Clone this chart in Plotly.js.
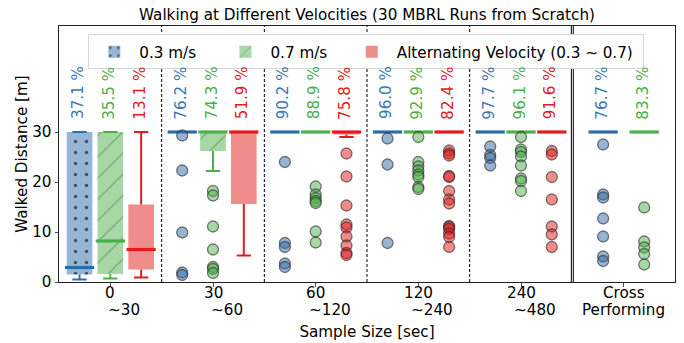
<!DOCTYPE html>
<html>
<head>
<meta charset="utf-8">
<script src="https://cdn.plot.ly/plotly-3.0.1.min.js"></script>
<style>html,body{margin:0;padding:0;background:#fff;}#chart{width:684px;height:343px;}</style>
</head>
<body>
<div id="chart"></div>
<script>
// ---- data ----
const categories = ["0\n~30", "30\n~60", "60\n~120", "120\n~240", "240\n~480", "Cross\nPerforming"];
const seriesNames = ["0.3 m/s", "0.7 m/s", "Alternating Velocity (0.3 ~ 0.7)"];

// 0.3 m/s
const q1_slow = [1.5, 30, 30, 30, 30, 30];
const med_slow = [2.9, 30, 30, 30, 30, 30];
const q3_slow = [30, 30, 30, 30, 30, 30];
const wlo_slow = [0.5, 30, 30, 30, 30, 30];
const whi_slow = [30, 30, 30, 30, 30, 30];
const out_slow = [[], [29.3, 22.3, 9.9, 1.9, 1.4], [24.0, 7.8, 7.0, 3.7, 3.0], [28.7, 23.5, 7.8],
  [27.1, 25.4, 24.8, 23.3], [27.5, 17.5, 16.9, 12.7, 9.1, 5.1, 4.2]];
const pct_slow = [37.1, 76.2, 90.2, 96.0, 97.7, 76.7];

// 0.7 m/s
const q1_fast = [1.6, 26.2, 30, 30, 30, 30];
const med_fast = [8.2, 30, 30, 30, 30, 30];
const q3_fast = [30, 30, 30, 30, 30, 30];
const wlo_fast = [0.7, 22.2, 30, 30, 30, 30];
const whi_fast = [30, 30, 30, 30, 30, 30];
const out_fast = [[], [18.2, 17.3, 11.1, 6.5, 3.0, 2.6, 1.8], [19.1, 17.5, 16.8, 16.2, 15.8, 10.1, 7.9],
  [29.0, 24.0, 23.1, 22.3, 21.5, 21.0, 19.0, 18.6], [29.0, 26.5, 26.0, 25.1, 23.3, 20.7, 20.2, 18.2],
  [14.9, 8.1, 6.9, 5.6, 3.5]];
const pct_fast = [35.5, 74.3, 88.9, 92.9, 96.1, 83.3];

// Alternating velocity (no cross-performing entry)
const q1_alt = [2.5, 15.6, 29.5, 30, 30];
const med_alt = [6.5, 30, 30, 30, 30];
const q3_alt = [15.5, 30, 30, 30, 30];
const wlo_alt = [0.9, 5.3, 29.0, 30, 30];
const whi_alt = [30, 30, 30, 30, 30];
const out_alt = [[], [], [25.7, 21.1, 15.3, 11.5, 10.9, 9.1, 7.3, 5.8, 5.4],
  [26.3, 25.7, 25.3, 21.2, 21.0, 18.2, 16.5, 15.7, 11.2, 11.0, 10.6, 9.7, 9.0, 7.0],
  [26.2, 25.5, 21.0, 16.5, 11.1, 9.5, 7.0]];
const pct_alt = [13.1, 51.9, 75.8, 82.4, 91.6];

// ---- styling ----
const FONT = "DejaVu Sans";
const FS = 15.2;
const NB = "\u00a0";
const styles = [
  {line: "#2f6ba5", text: "#3b77b3", fill: "rgba(47,107,165,0.5)", pat: {shape: ".", fgcolor: "#1d3f60", fgopacity: 0.85, size: 11, solidity: 0.07}, pad: 4},
  {line: "#4daf4a", text: "#4daf4a", fill: "rgba(77,175,74,0.5)", pat: {shape: "/", fgcolor: "#3f7a3c", fgopacity: 0.6, size: 15, solidity: 0.07}, pad: 3},
  {line: "#e41a1c", text: "#e41a1c", fill: "rgba(228,26,28,0.5)", pat: null, pad: 1}
];
const series = [
  {q1: q1_slow, med: med_slow, q3: q3_slow, wlo: wlo_slow, whi: whi_slow, out: out_slow, pct: pct_slow},
  {q1: q1_fast, med: med_fast, q3: q3_fast, wlo: wlo_fast, whi: whi_fast, out: out_fast, pct: pct_fast},
  {q1: q1_alt, med: med_alt, q3: q3_alt, wlo: wlo_alt, whi: whi_alt, out: out_alt, pct: pct_alt}
];
function xpos(s, g) {
  if (g === 5) return g + (s === 0 ? -0.2 : 0.2);
  return g + (s - 1) * 0.3;
}
const BOXW = 0.25, MEDW = 0.285, CAPW = 0.14;

const traces = [];
const annotations = [];
series.forEach((d, s) => {
  const st = styles[s];
  const xs = d.q1.map((_, g) => xpos(s, g));
  // boxes
  const marker = {color: st.fill, line: {width: 0}};
  if (st.pat) marker.pattern = Object.assign({fillmode: "overlay", bgcolor: st.fill}, st.pat);
  traces.push({type: "bar", name: seriesNames[s] + NB.repeat(st.pad), x: xs, base: d.q1, y: d.q3.map((v, i) => v - d.q1[i]),
    width: BOXW, marker: marker, showlegend: true, hoverinfo: "skip"});
  // whiskers + caps
  const wx = [], wy = [];
  xs.forEach((x, i) => {
    wx.push(x, x, null, x, x, null, x - CAPW / 2, x + CAPW / 2, null, x - CAPW / 2, x + CAPW / 2, null);
    wy.push(d.q1[i], d.wlo[i], null, d.q3[i], d.whi[i], null, d.wlo[i], d.wlo[i], null, d.whi[i], d.whi[i], null);
  });
  traces.push({type: "scatter", mode: "lines", x: wx, y: wy, line: {color: st.line, width: 2}, showlegend: false, hoverinfo: "skip"});
  // medians
  const mx = [], my = [];
  xs.forEach((x, i) => { mx.push(x - MEDW / 2, x + MEDW / 2, null); my.push(d.med[i], d.med[i], null); });
  traces.push({type: "scatter", mode: "lines", x: mx, y: my, line: {color: st.line, width: 3.2}, showlegend: false, hoverinfo: "skip"});
  // outliers
  const ox = [], oy = [];
  d.out.forEach((arr, i) => arr.forEach(v => { ox.push(xs[i]); oy.push(v); }));
  traces.push({type: "scatter", mode: "markers", x: ox, y: oy, showlegend: false, hoverinfo: "skip",
    marker: {size: 11, color: st.fill, line: {color: "rgba(40,40,40,0.6)", width: 1.3}}});
  // percentages
  d.pct.forEach((p, i) => {
    annotations.push({x: xs[i], y: 32.1, xref: "x", yref: "y", text: p.toFixed(1) + " %", textangle: -90,
      showarrow: false, xanchor: "center", yanchor: "bottom", xshift: -1.5,
      font: {family: FONT, size: FS, color: st.text}});
  });
});

// category tick labels (two lines, second line offset as in the original)
categories.forEach((c, i) => {
  const parts = c.split("\n");
  const last = i === categories.length - 1;
  annotations.push({x: i, y: 0, xref: "x", yref: "paper", text: parts[0], showarrow: false,
    xanchor: "center", yanchor: "middle", yshift: -10.5, font: {family: FONT, size: FS, color: "black"}});
  annotations.push({x: i, y: 0, xref: "x", yref: "paper", text: parts[1], showarrow: false,
    xanchor: "center", yanchor: "middle", yshift: -28.3, xshift: last ? 0 : 14, font: {family: FONT, size: FS, color: "black"}});
});

// separators
const shapes = [];
for (let g = 0; g < categories.length - 1; g++) {
  const xb = g + 0.5;
  if (g === categories.length - 2) {
    [-0.0095, 0.0095].forEach(o => shapes.push({type: "line", xref: "x", yref: "paper", x0: xb + o, x1: xb + o, y0: 0, y1: 1,
      line: {color: "black", width: 1}}));
  } else {
    shapes.push({type: "line", xref: "x", yref: "paper", x0: xb, x1: xb, y0: 0, y1: 1,
      line: {color: "black", width: 1, dash: "3px,2px"}});
  }
}

const layout = {
  width: 684, height: 343,
  margin: {l: 59, r: 9, t: 26, b: 61, pad: 0},
  paper_bgcolor: "white", plot_bgcolor: "white",
  font: {family: FONT, size: FS, color: "black"},
  title: {text: "Walking at Different Velocities (30 MBRL Runs from Scratch)", x: 0.5, xref: "paper",
    y: 1 - 15 / 343, yref: "container", yanchor: "middle", font: {family: FONT, size: FS, color: "black"}},
  barmode: "overlay",
  xaxis: {range: [-0.5, 5.5], tickvals: categories.map((_, i) => i), showticklabels: false,
    showgrid: false, zeroline: false, showline: true, mirror: true, linecolor: "#222", linewidth: 1,
    ticks: "outside", ticklen: 3.5, tickwidth: 0.8, tickcolor: "#222",
    title: {text: "Sample Size [sec]", standoff: 40, font: {family: FONT, size: FS, color: "black"}}},
  yaxis: {range: [0, 51.2], tickvals: [0, 10, 20, 30], showgrid: false, zeroline: false,
    showline: true, mirror: true, linecolor: "#222", linewidth: 1,
    ticks: "outside", ticklen: 3.5, tickwidth: 0.8, tickcolor: "#222",
    tickfont: {family: FONT, size: FS, color: "black"},
    title: {text: "Walked Distance [m]", standoff: 0, font: {family: FONT, size: FS, color: "black"}}},
  legend: {orientation: "h", x: 0.0476, y: 0.9676, xanchor: "left", yanchor: "top",
    bgcolor: "white", bordercolor: "#d4d4d4", borderwidth: 1, itemwidth: 40,
    font: {family: FONT, size: FS, color: "black"}, traceorder: "normal"},
  shapes: shapes,
  annotations: annotations
};

Plotly.newPlot("chart", traces, layout, {displayModeBar: false, staticPlot: true});
</script>
</body>
</html>
